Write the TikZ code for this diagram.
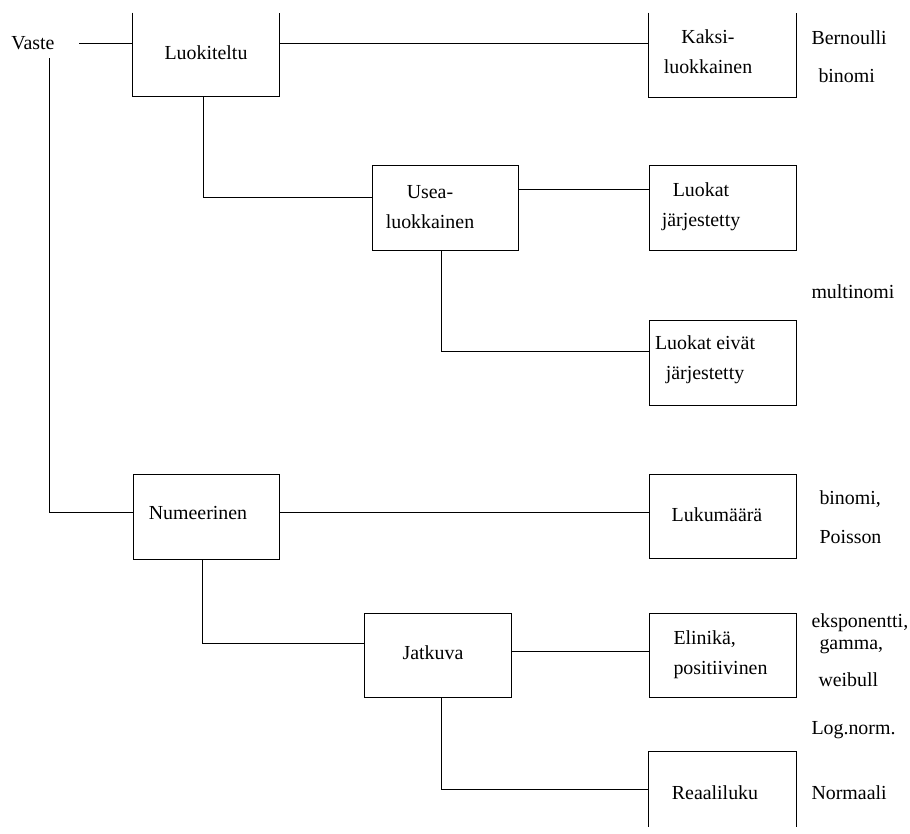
\documentclass[tikz,border=0pt]{standalone}
\usepackage{fontspec}
\setmainfont{Liberation Serif}
\begin{document}
\begin{tikzpicture}[x=1pt,y=-1pt,line width=1pt,
  lbl/.style={font=\fontsize{19.9}{30}\selectfont, inner sep=0pt},
  boxframe/.style={draw, inner sep=0pt, line width=1pt},
  openbox/.style={draw=none, inner sep=0pt}]
\useasboundingbox (0,0) rectangle (910,833);

% boxes
\node[openbox, minimum width=146pt, minimum height=83pt] (luok) at (206,54.5) {};
\node[openbox, minimum width=147pt, minimum height=84pt] (kaksi) at (722.5,55) {};
\node[boxframe, minimum width=146pt, minimum height=85pt] (usea) at (445,207.5) {};
\node[boxframe, minimum width=147pt, minimum height=85pt] (ljar) at (722.5,207.5) {};
\node[boxframe, minimum width=147pt, minimum height=85pt] (leiv) at (722.5,362.5) {};
\node[boxframe, minimum width=146pt, minimum height=85pt] (num) at (206,516.5) {};
\node[boxframe, minimum width=147pt, minimum height=84pt] (luku) at (722.5,516) {};
\node[boxframe, minimum width=147pt, minimum height=84pt] (jatk) at (437.5,655) {};
\node[boxframe, minimum width=147pt, minimum height=84pt] (elin) at (722.5,655) {};
\node[openbox, minimum width=147pt, minimum height=74pt] (reaa) at (722.5,789) {};

\draw (luok.north west) -- (luok.south west) -- (luok.south east) -- (luok.north east);
\draw (kaksi.north west) -- (kaksi.south west) -- (kaksi.south east) -- (kaksi.north east);
\draw (reaa.south west) -- (reaa.north west) -- (reaa.north east) -- (reaa.south east);

% texts
\node[lbl] (vaste) at (33,43) {Vaste};
\node[lbl] (tluok) at (206,53) {Luokiteltu};
\node[lbl, align=center] (tkaksi) at (708,52) {Kaksi-\\luokkainen};
\node[lbl, anchor=west] (tbern) at (811,38) {Bernoulli};
\node[lbl, anchor=west] (tbin1) at (818,76) {binomi};
\node[lbl, align=center] (tusea) at (430,207) {Usea-\\luokkainen};
\node[lbl, align=center] (tljar) at (701,207) {Luokat\\järjestetty};
\node[lbl, anchor=west] (tmulti) at (811,292) {multinomi};
\node[lbl, align=center] (tleiv) at (705,360) {Luokat eivät\\järjestetty};
\node[lbl] (tnum) at (198,513) {Numeerinen};
\node[lbl] (tluku) at (717,515) {Lukumäärä};
\node[lbl, anchor=west] (tbin2) at (819,499) {binomi,};
\node[lbl, anchor=west] (tpois) at (819,537) {Poisson};
\node[lbl] (tjatk) at (433,653) {Jatkuva};
\node[lbl, align=left, anchor=west] (telin) at (673,655) {Elinikä,\\positiivinen};
\node[lbl, anchor=west] (teksp) at (811,623) {eksponentti,};
\node[lbl, anchor=west] (tgam) at (819,647) {gamma,};
\node[lbl, anchor=west] (tweib) at (818,680) {weibull};
\node[lbl, anchor=west] (tlog) at (811,730) {Log.norm.};
\node[lbl] (treaa) at (715,793) {Reaaliluku};
\node[lbl, anchor=west] (tnorm) at (811,793) {Normaali};

% connectors
\coordinate (v0) at (79,43);
\coordinate (v1) at (49,58);
\draw (v0) -- (v0 -| luok.west);
\draw (v1) |- ([yshift=4.5pt]num.west);
\draw ([yshift=11.5pt]luok.east) -- ([yshift=12pt]kaksi.west);
\draw ([xshift=-3pt]luok.south) |- ([yshift=10.5pt]usea.west);
\draw ([yshift=18.5pt]usea.east) -- ([yshift=18.5pt]ljar.west);
\draw ([xshift=-4pt]usea.south) |- ([yshift=11.5pt]leiv.west);
\draw ([yshift=4.5pt]num.east) -- ([yshift=4pt]luku.west);
\draw ([xshift=-4pt]num.south) |- ([yshift=12pt]jatk.west);
\draw ([yshift=4pt]jatk.east) -- ([yshift=4pt]elin.west);
\draw ([xshift=3.5pt]jatk.south) |- ([yshift=0pt]reaa.west);
\end{tikzpicture}
\end{document}
